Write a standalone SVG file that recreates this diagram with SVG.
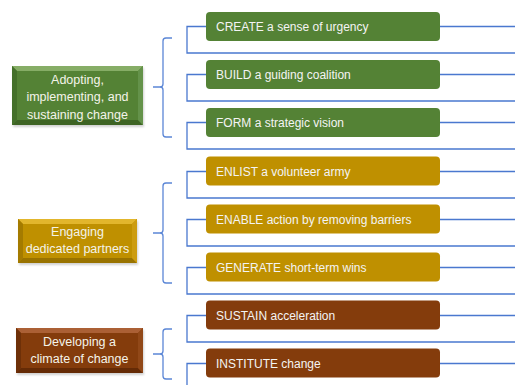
<svg xmlns="http://www.w3.org/2000/svg" width="515" height="385" viewBox="0 0 515 385">
<style>
.box{rx:4;ry:4}
.g{fill:#548235}
.y{fill:#BF9000}
.b{fill:#843C0C}
.t{font-family:"Liberation Sans",Arial,sans-serif;font-size:12px;fill:#f4f4f4}
.lt{font-family:"Liberation Sans",Arial,sans-serif;font-size:12.5px;fill:#f4f4ea;text-anchor:middle}
.ln{fill:none;stroke:#4A78CF;stroke-width:1.3}
.br{fill:none;stroke:#5B86D6;stroke-width:1.3}
.sh{fill:#000;opacity:0.18}
</style>
<defs>
<filter id="blur" x="-10%" y="-10%" width="120%" height="130%"><feGaussianBlur stdDeviation="1.2"/></filter>
</defs>
<g id="connectors">
<path class="ln" d="M206,26.5H187V53H515M440,26.5H515"/>
<path class="ln" d="M206,74.5H187V101H515M440,74.5H515"/>
<path class="ln" d="M206,122.5H187V149H515M440,122.5H515"/>
<path class="ln" d="M206,171.5H187V198H515M440,171.5H515"/>
<path class="ln" d="M206,219.5H187V246H515M440,219.5H515"/>
<path class="ln" d="M206,267.5H187V294H515M440,267.5H515"/>
<path class="ln" d="M206,315.5H187V342H515M440,315.5H515"/>
<path class="ln" d="M206,363.5H187V385M440,363.5H515"/>
<path class="br" d="M172,38H166Q163,38 163,41V84Q163,87 160,87H153M160,87Q163,87 163,90V134Q163,137 166,137H172"/>
<path class="br" d="M172,183H166Q163,183 163,186V230Q163,233 160,233H153M160,233Q163,233 163,236V280Q163,283 166,283H172"/>
<path class="br" d="M172,329H166Q163,329 163,332V351Q163,354 160,354H153M160,354Q163,354 163,357V376Q163,379 166,379H172"/>
</g>
<g id="left-green">
<rect class="sh" x="13" y="68" width="131" height="59" filter="url(#blur)"/>
<rect x="12" y="66" width="131" height="59" fill="#548235"/>
<polygon points="12,66 143,66 138,71 17,71" fill="#86ad66"/>
<polygon points="12,66 17,71 17,120 12,125" fill="#44702a"/>
<polygon points="12,125 17,120 138,120 143,125" fill="#3e6424"/>
<polygon points="143,66 138,71 138,120 143,125" fill="#64924a"/>
<text class="lt" x="77.5" y="83.5">Adopting,</text>
<text class="lt" x="77.5" y="101">implementing, and</text>
<text class="lt" x="77.5" y="118.5">sustaining change</text>
</g>
<g id="left-gold">
<rect class="sh" x="19" y="221" width="119" height="44" filter="url(#blur)"/>
<rect x="18" y="219" width="119" height="44" fill="#BF9000"/>
<polygon points="18,219 137,219 132,224 23,224" fill="#e2b62c"/>
<polygon points="18,219 23,224 23,258 18,263" fill="#a47b00"/>
<polygon points="18,263 23,258 132,258 137,263" fill="#997300"/>
<polygon points="137,219 132,224 132,258 137,263" fill="#cc9c10"/>
<text class="lt" x="77.5" y="236">Engaging</text>
<text class="lt" x="77.5" y="253">dedicated partners</text>
</g>
<g id="left-brown">
<rect class="sh" x="17" y="330" width="127" height="45" filter="url(#blur)"/>
<rect x="16" y="328" width="127" height="45" fill="#843C0C"/>
<polygon points="16,328 143,328 138,333 21,333" fill="#ab6035"/>
<polygon points="16,328 21,333 21,368 16,373" fill="#6e3008"/>
<polygon points="16,373 21,368 138,368 143,373" fill="#652b06"/>
<polygon points="143,328 138,333 138,368 143,373" fill="#914818"/>
<text class="lt" x="79.5" y="345.5">Developing a</text>
<text class="lt" x="79.5" y="363">climate of change</text>
</g>
<g id="n1"><rect class="box g" x="206" y="12" width="234" height="29"/><text class="t" x="216" y="31">CREATE a sense of urgency</text></g>
<g id="n2"><rect class="box g" x="206" y="60" width="234" height="29"/><text class="t" x="216" y="79">BUILD a guiding coalition</text></g>
<g id="n3"><rect class="box g" x="206" y="108" width="234" height="29"/><text class="t" x="216" y="127">FORM a strategic vision</text></g>
<g id="n4"><rect class="box y" x="206" y="156.5" width="234" height="29"/><text class="t" x="216" y="175.5">ENLIST a volunteer army</text></g>
<g id="n5"><rect class="box y" x="206" y="204.5" width="234" height="29"/><text class="t" x="216" y="223.5">ENABLE action by removing barriers</text></g>
<g id="n6"><rect class="box y" x="206" y="252.5" width="234" height="29"/><text class="t" x="216" y="271.5">GENERATE short-term wins</text></g>
<g id="n7"><rect class="box b" x="206" y="300.5" width="234" height="29"/><text class="t" x="216" y="319.5">SUSTAIN acceleration</text></g>
<g id="n8"><rect class="box b" x="206" y="348.5" width="234" height="29"/><text class="t" x="216" y="367.5">INSTITUTE change</text></g>
</svg>
